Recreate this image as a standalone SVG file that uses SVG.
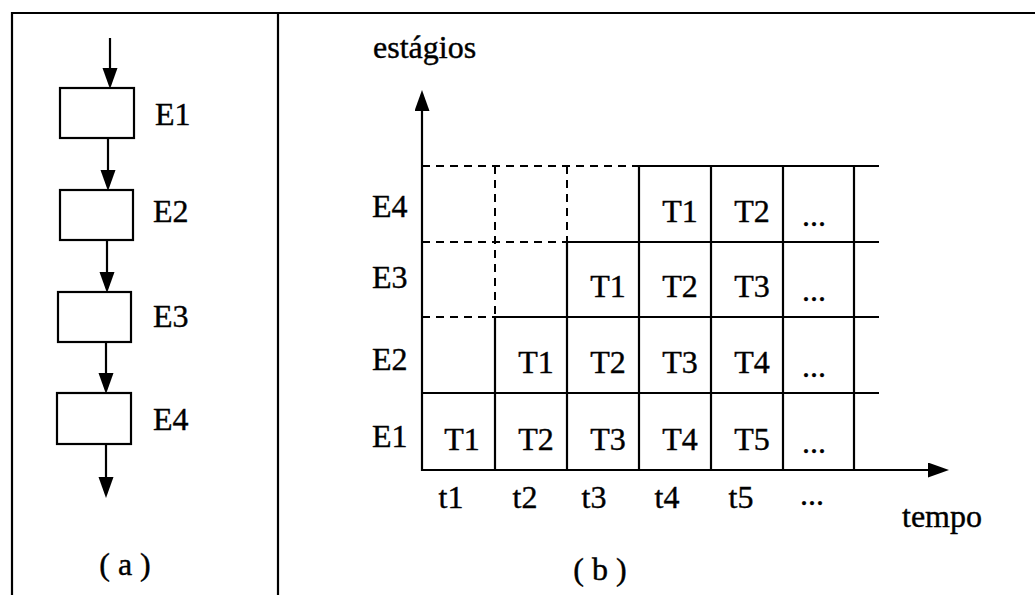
<svg xmlns="http://www.w3.org/2000/svg" width="1035" height="595" viewBox="0 0 1035 595">
<style>
text{font-family:"Liberation Serif","Times New Roman",serif;font-size:32px;fill:#000;stroke:#000;stroke-width:0.4}
.c{text-anchor:middle}
.ln{stroke:#000;stroke-width:2.2;fill:none}
.ds{stroke:#000;stroke-width:2;fill:none;stroke-dasharray:8 6}
.box{fill:#fff;stroke:#000;stroke-width:2.2}
</style>
<defs>
<marker id="ah" markerUnits="userSpaceOnUse" markerWidth="22" markerHeight="16" refX="0" refY="7.5" orient="auto">
<path d="M0,0 L21,7.5 L0,15 z" fill="#000"/>
</marker>
</defs>
<rect width="1035" height="595" fill="#fff"/>
<g id="frame">
<path class="ln" d="M12,595 V13 H1035"/>
<path class="ln" d="M278,13 V595"/>
</g>
<g id="connectors">
<line class="ln" x1="110" y1="38" x2="110" y2="68" marker-end="url(#ah)"/>
<line class="ln" x1="108" y1="138" x2="108" y2="170" marker-end="url(#ah)"/>
<line class="ln" x1="107" y1="240" x2="107" y2="272" marker-end="url(#ah)"/>
<line class="ln" x1="106" y1="342" x2="106" y2="373" marker-end="url(#ah)"/>
<line class="ln" x1="106" y1="444" x2="106" y2="477" marker-end="url(#ah)"/>
<line class="ln" x1="422" y1="471" x2="422" y2="111" marker-end="url(#ah)"/>
<line class="ln" x1="421" y1="470" x2="928" y2="470" marker-end="url(#ah)"/>
</g>
<g id="stage-E1"><rect class="box" x="60" y="88" width="74" height="50"/><text x="155" y="125">E1</text></g>
<g id="stage-E2"><rect class="box" x="60" y="190" width="73" height="50"/><text x="153" y="222">E2</text></g>
<g id="stage-E3"><rect class="box" x="58" y="292" width="73" height="50"/><text x="153" y="327">E3</text></g>
<g id="stage-E4"><rect class="box" x="57" y="393" width="74" height="51"/><text x="153" y="430">E4</text></g>
<text class="c" x="125" y="575">( a )</text>
<g id="grid">
<path class="ds" d="M422,166 H639 M422,242 H567 M422,317 H495 M495,166 V317 M567,166 V242"/>
<path class="ln" d="M639,166 H879 M567,242 H879 M495,317 H879 M422,393 H879 M495,317 V470 M567,242 V470 M639,166 V470 M711,166 V470 M783,166 V470 M854,166 V470"/>
</g>
<g id="row-E4">
<text x="372" y="217">E4</text>
<text class="c" x="680" y="222">T1</text><text class="c" x="752" y="222">T2</text><text class="c" x="814" y="226">...</text>
</g>
<g id="row-E3">
<text x="372" y="288">E3</text>
<text class="c" x="608" y="297">T1</text><text class="c" x="680" y="297">T2</text><text class="c" x="752" y="297">T3</text><text class="c" x="814" y="301">...</text>
</g>
<g id="row-E2">
<text x="372" y="370">E2</text>
<text class="c" x="536" y="373">T1</text><text class="c" x="608" y="373">T2</text><text class="c" x="680" y="373">T3</text><text class="c" x="752" y="373">T4</text><text class="c" x="814" y="377">...</text>
</g>
<g id="row-E1">
<text x="372" y="447">E1</text>
<text class="c" x="462" y="450">T1</text><text class="c" x="536" y="450">T2</text><text class="c" x="608" y="450">T3</text><text class="c" x="680" y="450">T4</text><text class="c" x="752" y="450">T5</text><text class="c" x="814" y="453">...</text>
</g>
<g id="axis-labels">
<text x="373" y="58">estágios</text>
<text class="c" x="451" y="508">t1</text><text class="c" x="525" y="508">t2</text><text class="c" x="594" y="508">t3</text><text class="c" x="667" y="508">t4</text><text class="c" x="741" y="508">t5</text><text class="c" x="812" y="505">...</text>
<text x="902" y="527">tempo</text>
</g>
<text class="c" x="600" y="580">( b )</text>
</svg>
